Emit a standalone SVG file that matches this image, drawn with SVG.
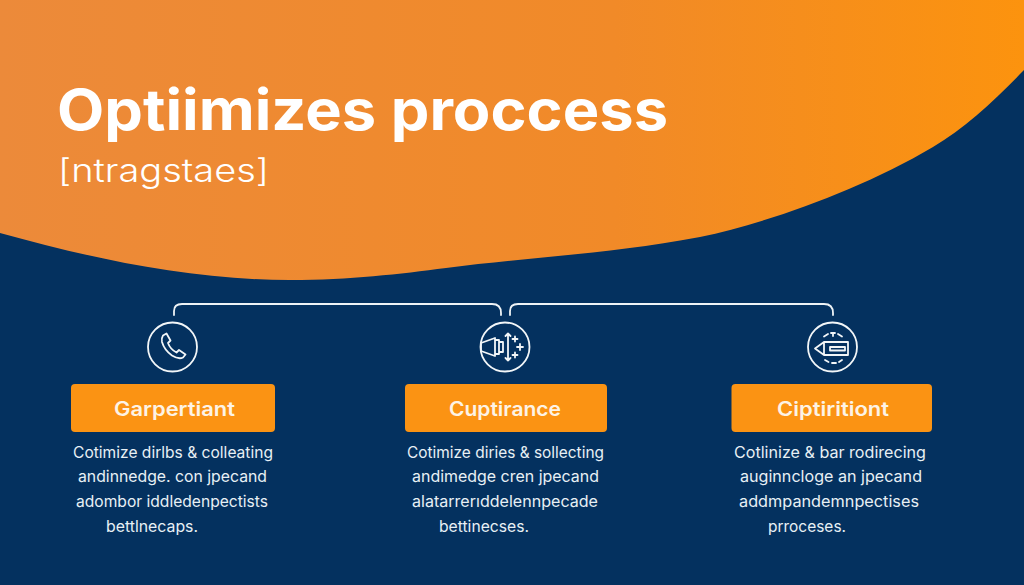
<svg xmlns="http://www.w3.org/2000/svg" width="1024" height="585" viewBox="0 0 1024 585">
<defs>
<linearGradient id="og" x1="0" y1="0" x2="1" y2="0"><stop offset="0" stop-color="#ec8a3a"/><stop offset="0.6" stop-color="#f18a28"/><stop offset="1" stop-color="#fc930e"/></linearGradient>
</defs>
<style>
.bg{fill:#04315f}
.card{fill:#fb9313}
.ic{fill:none;stroke:#f2f6f8;stroke-width:1.8;stroke-linecap:round;stroke-linejoin:round}
.conn{fill:none;stroke:#eef3f6;stroke-width:1.8;stroke-linecap:round}
text{font-family:"Inter","Liberation Sans",sans-serif;fill:#fff}
.lab{font-size:20px;font-weight:600;fill:#fdf3e6}
.body{font-size:15.5px;fill:#e8f0f5}
</style>
<rect class="bg" width="1024" height="585"/>
<path fill="url(#og)" d="M0 233C90 258 190 280 290 280C350 280 400 274 446 268C530 257 610 254 700 237C770 222 860 190 933 147C965 128 995 100 1024 70V0H0Z"/>
<g id="title">
<text x="57" y="130" font-size="56" font-weight="700" textLength="611" lengthAdjust="spacingAndGlyphs">Optiimizes proccess</text>
<text x="58" y="182" font-size="32" font-weight="300" textLength="211" lengthAdjust="spacingAndGlyphs">[ntragstaes]</text>
</g>
<g id="connectors">
<path class="conn" d="M174 315V311Q174 304 182 304H492Q501 304 501 313V315"/>
<path class="conn" d="M510 315V311Q510 304 518 304H824Q833 304 833 313V315"/>
</g>
<g id="node-1">
<circle class="ic" cx="172.500" cy="347" r="24.500"/>
<path class="ic" d="M163 335.500L166.500 333.500L170.500 340.500L168 343C169.500 347 172.500 350.500 176.500 352.500L179 350L185.500 354.500L183 357.500C180 359 176 358 172 355.500C167 352 163.500 347 162 342C161.500 339.500 162 337 163 335.500Z"/>
<rect class="card" x="71" y="384" width="204" height="48" rx="4"/>
<text class="lab" x="114" y="416" textLength="121" lengthAdjust="spacingAndGlyphs">Garpertiant</text>
<text class="body" x="73" y="458" textLength="200" lengthAdjust="spacingAndGlyphs">Cotimize dirlbs &amp; colleating</text>
<text class="body" x="78" y="482" textLength="189" lengthAdjust="spacingAndGlyphs">andinnedge. con jpecand</text>
<text class="body" x="76" y="507" textLength="192" lengthAdjust="spacingAndGlyphs">adombor iddledenpectists</text>
<text class="body" x="106" y="532" textLength="92" lengthAdjust="spacingAndGlyphs">bettlnecaps.</text>
</g>
<g id="node-2">
<circle class="ic" cx="505" cy="347" r="24.500"/>
<path class="ic" d="M481 343V351L495 356V338ZM495 340H499V354H495M499 342H503V352H499M508 333.500V360.500M505.500 336L508 333.500L510.500 336M505.500 358L508 360.500L510.500 358M515 336.500V341.500M512.500 339H517.500M520 344V350M517 347H523M515 352.500V357.500M512.500 355H517.500"/>
<rect class="card" x="405" y="384" width="202" height="48" rx="4"/>
<text class="lab" x="449" y="416" textLength="112" lengthAdjust="spacingAndGlyphs">Cuptirance</text>
<text class="body" x="407" y="458" textLength="197" lengthAdjust="spacingAndGlyphs">Cotimize diries &amp; sollecting</text>
<text class="body" x="412" y="482" textLength="187" lengthAdjust="spacingAndGlyphs">andimedge cren jpecand</text>
<text class="body" x="412" y="507" textLength="186" lengthAdjust="spacingAndGlyphs">alatarrerıddelennpecade</text>
<text class="body" x="439" y="532" textLength="90" lengthAdjust="spacingAndGlyphs">bettinecses.</text>
</g>
<g id="node-3">
<circle class="ic" cx="832.500" cy="347" r="24.500"/>
<path class="ic" d="M815 348.500L824 342H848V355H824ZM824 342V355M830 347H845V350.500H830ZM824 336.500L828 334M831 333H835M838 334L842 336.500M833 333V336M825 360L828.500 362M832 363H836M839 362L842 360"/>
<rect class="card" x="731.500" y="384" width="200.500" height="48" rx="4"/>
<text class="lab" x="777" y="416" textLength="112" lengthAdjust="spacingAndGlyphs">Ciptiritiont</text>
<text class="body" x="734" y="458" textLength="192" lengthAdjust="spacingAndGlyphs">Cotlinize &amp; bar rodirecing</text>
<text class="body" x="740" y="482" textLength="182" lengthAdjust="spacingAndGlyphs">auginncloge an jpecand</text>
<text class="body" x="739" y="507" textLength="180" lengthAdjust="spacingAndGlyphs">addmpandemnpectises</text>
<text class="body" x="768" y="532" textLength="78" lengthAdjust="spacingAndGlyphs">prroceses.</text>
</g>
</svg>
